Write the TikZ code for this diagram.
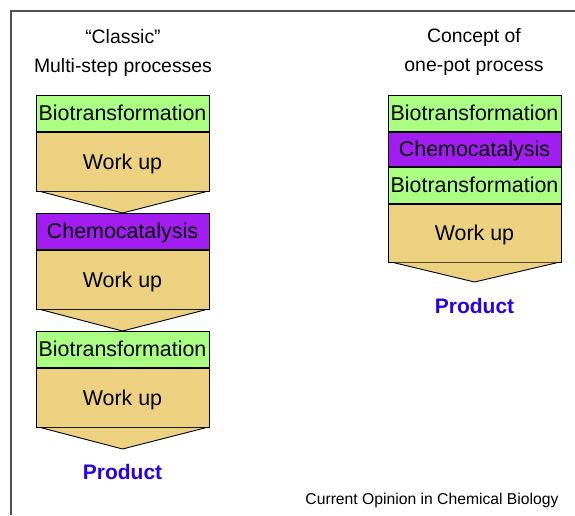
\documentclass[tikz,border=0pt]{standalone}
\usepackage{fontspec}
\setmainfont{Liberation Sans}
\usetikzlibrary{calc}
\definecolor{biogreen}{RGB}{170,255,130}
\definecolor{chempurple}{RGB}{162,30,240}
\definecolor{workupfill}{RGB}{236,209,128}
\definecolor{prodblue}{RGB}{40,0,235}
\definecolor{framegray}{RGB}{80,80,80}
\tikzset{
  stepbox/.style={draw=black, line width=0.9pt, minimum width=173pt, inner sep=0pt, anchor=north, text height=15pt, text depth=0pt, font=\fontsize{21.4}{25}\selectfont},
  bio/.style={stepbox, fill=biogreen, minimum height=36pt},
  chem/.style={stepbox, fill=chempurple, minimum height=36pt},
  workup/.style={stepbox, fill=workupfill, minimum height=59pt},
  chevron/.style={draw=black, line width=0.9pt, fill=workupfill, line join=miter},
  heading/.style={font=\fontsize{19.4}{23}\selectfont},
  product/.style={text=prodblue, font=\fontsize{21}{25}\selectfont\bfseries}
}
\begin{document}
\begin{tikzpicture}[x=1pt,y=-1pt]
\useasboundingbox (0,0) rectangle (575,515);
\draw[framegray, line width=1.5pt] (11,515) -- (11,11) -- (575,11);

\node[heading] (h1a) at (123,37) {“Classic”};
\node[heading] (h1b) at (123,67) {Multi-step processes};
\node[heading] (h2a) at (474,37) {Concept of};
\node[heading] (h2b) at (474,67) {one-pot process};

\node[bio] (b1) at (122.5,95) {Biotransformation};
\node[workup] (w1) at (b1.south) {Work up};
\node[chem] (c1) at (122.5,213) {Chemocatalysis};
\node[workup] (w2) at (c1.south) {Work up};
\node[bio] (b2) at (122.5,331) {Biotransformation};
\node[workup] (w3) at (b2.south) {Work up};
\coordinate (t1) at (122.5,449);
\node[product] (p1) at (122.5,472) {Product};

\draw[chevron] ($(w1.south west)+(6,0)$) -- (c1.north) -- ($(w1.south east)+(-4,0)$);
\draw[chevron] ($(w2.south west)+(6,0)$) -- (b2.north) -- ($(w2.south east)+(-4,0)$);
\draw[chevron] ($(w3.south west)+(6,0)$) -- (t1) -- ($(w3.south east)+(-4,0)$);

\node[bio] (b3) at (474.5,95) {Biotransformation};
\node[chem, minimum height=34pt] (c2) at (b3.south) {Chemocatalysis};
\node[bio] (b4) at (c2.south) {Biotransformation};
\node[workup, minimum height=58pt] (w4) at (b4.south) {Work up};
\coordinate (t2) at (474.5,282);
\node[product] (p2) at (474.5,306) {Product};
\draw[chevron] ($(w4.south west)+(6,0)$) -- (t2) -- ($(w4.south east)+(-4,0)$);

\node[font=\fontsize{15.7}{19}\selectfont] (src) at (432,500) {Current Opinion in Chemical Biology};
\end{tikzpicture}
\end{document}
